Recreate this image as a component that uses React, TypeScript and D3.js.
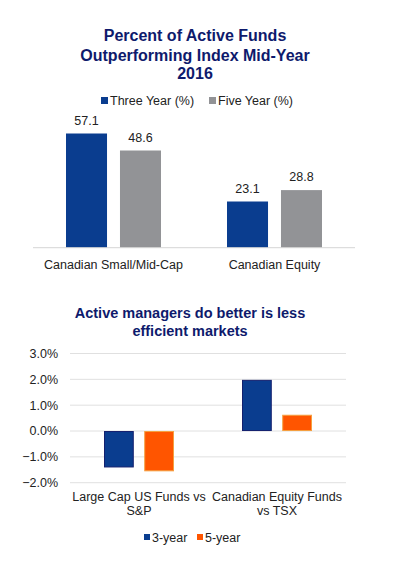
import * as d3 from 'd3';

// Chart 1: percent of active funds outperforming
const topCategories = ['Canadian Small/Mid-Cap', 'Canadian Equity'];
const topSeries = ['Three Year (%)', 'Five Year (%)'];
const threeYear = [57.1, 23.1];
const fiveYear = [48.6, 28.8];

// Chart 2: active managers relative performance
const bottomCategories = [['Large Cap US Funds vs', 'S&P'], ['Canadian Equity Funds', 'vs TSX']];
const bottomSeries = ['3-year', '5-year'];
const threeYr = [-1.41, 1.98];
const fiveYr = [-1.56, 0.63];
const yTicks = [3, 2, 1, 0, -1, -2];

const BLUE = '#0a3d8f';
const BLUE_EDGE = '#14206e';
const GREY = '#929396';
const ORANGE = '#ff5500';
const ORANGE_EDGE = '#f5a040';
const TITLE = '#0e1a6c';
const FONT = '"Liberation Sans", Arial, sans-serif';

export default function App() {
  // top chart scales
  const x1 = d3.scaleBand().domain(topCategories).range([33, 355]);
  const sub1 = d3.scaleBand().domain(topSeries).range([0, 95]).paddingInner(0.24);
  const y1 = d3.scaleLinear().domain([0, 60]).range([247.7, 127.7]);
  const topVals = [threeYear, fiveYear];
  const topColors = [BLUE, GREY];

  // bottom chart scales
  const x2 = d3.scaleBand().domain(['a', 'b']).range([70, 346]);
  const sub2 = d3.scaleBand().domain(bottomSeries).range([0, 70]).paddingInner(0.26);
  const y2 = d3.scaleLinear().domain([-2, 3]).range([482.7, 353.5]);
  const botVals = [threeYr, fiveYr];
  const botFill = [BLUE, ORANGE];
  const botEdge = [BLUE_EDGE, ORANGE_EDGE];

  return (
    <div style={{ position: 'absolute', left: 0, top: 0 }}>
      <svg width={397} height={565} style={{ display: 'block', background: '#fff' }} fontFamily={FONT}>
        {/* Top title */}
        <g fill={TITLE} fontWeight="bold" fontSize={16} textAnchor="middle">
          <text x={195} y={41}>Percent of Active Funds</text>
          <text x={195} y={61}>Outperforming Index Mid-Year</text>
          <text x={195} y={79}>2016</text>
        </g>
        {/* Top legend */}
        <g fontSize={12.5} fill="#222">
          <rect x={101} y={97} width={7} height={7} fill={BLUE} />
          <text x={110} y={105}>{topSeries[0]}</text>
          <rect x={209} y={97} width={7} height={7} fill={GREY} />
          <text x={218} y={105}>{topSeries[1]}</text>
        </g>
        {/* Top bars */}
        {topCategories.map((c, i) => {
          const gx = (x1(c) ?? 0) + (x1.bandwidth() - 95) / 2;
          return (
            <g key={c}>
              {topSeries.map((s, j) => {
                const v = topVals[j][i];
                const bx = gx + (sub1(s) ?? 0);
                return (
                  <g key={s}>
                    <rect x={bx} y={y1(v)} width={sub1.bandwidth()} height={y1(0) - y1(v)} fill={topColors[j]} />
                    <text x={bx + sub1.bandwidth() / 2} y={y1(v) - 9} textAnchor="middle" fontSize={12.5} fill="#222">
                      {v.toFixed(1)}
                    </text>
                  </g>
                );
              })}
              <text x={(x1(c) ?? 0) + x1.bandwidth() / 2} y={268.5} textAnchor="middle" fontSize={12.5} fill="#222">
                {c}
              </text>
            </g>
          );
        })}
        <line x1={33} x2={355} y1={y1(0)} y2={y1(0)} stroke="#d6d6d6" strokeWidth={1} />

        {/* Bottom title */}
        <g fill={TITLE} fontWeight="bold" fontSize={14.5} textAnchor="middle">
          <text x={190} y={318}>Active managers do better is less</text>
          <text x={190} y={336}>efficient markets</text>
        </g>
        {/* Bottom grid + y axis */}
        {yTicks.map(t => (
          <g key={t}>
            <line x1={70} x2={346} y1={y2(t)} y2={y2(t)} stroke="#e0e0e0" strokeWidth={1} />
            <text x={58} y={y2(t)} dy="0.35em" textAnchor="end" fontSize={12.5} fill="#222">
              {d3.format('.1f')(t)}%
            </text>
          </g>
        ))}
        {/* Bottom bars */}
        {bottomCategories.map((lines, i) => {
          const key = i === 0 ? 'a' : 'b';
          const gx = (x2(key) ?? 0) + (x2.bandwidth() - 70) / 2;
          const cx = (x2(key) ?? 0) + x2.bandwidth() / 2;
          return (
            <g key={key}>
              {bottomSeries.map((s, j) => {
                const v = botVals[j][i];
                const bx = gx + (sub2(s) ?? 0);
                return (
                  <rect
                    key={s}
                    x={bx + 0.5}
                    y={Math.min(y2(v), y2(0)) + 0.5}
                    width={sub2.bandwidth() - 1}
                    height={Math.abs(y2(v) - y2(0)) - 1}
                    fill={botFill[j]}
                    stroke={botEdge[j]}
                    strokeWidth={1}
                  />
                );
              })}
              <text textAnchor="middle" fontSize={12.5} fill="#222">
                {lines.map((l, k) => (
                  <tspan key={k} x={cx} y={501 + k * 14}>{l}</tspan>
                ))}
              </text>
            </g>
          );
        })}
        {/* Bottom legend */}
        <g fontSize={12.5} fill="#222">
          <rect x={144} y={534} width={6} height={6} fill={BLUE} />
          <text x={152} y={541.5}>{bottomSeries[0]}</text>
          <rect x={197} y={534} width={6} height={6} fill={ORANGE} />
          <text x={205} y={541.5}>{bottomSeries[1]}</text>
        </g>
      </svg>
    </div>
  );
}
